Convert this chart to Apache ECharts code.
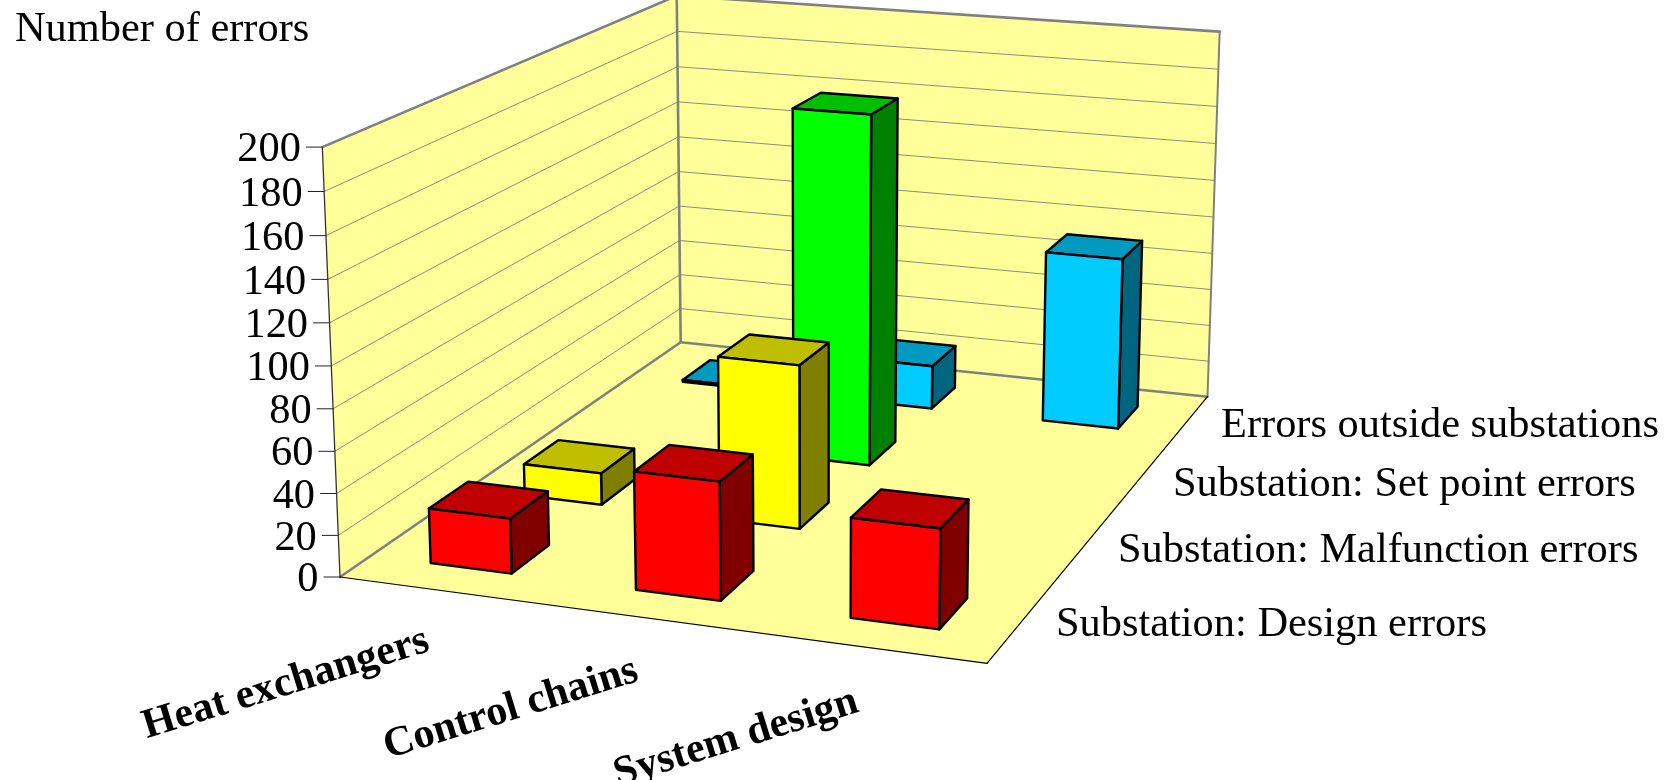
<!DOCTYPE html>
<html>
<head>
<meta charset="utf-8">
<style>html,body{margin:0;padding:0;background:#fff}#chart{width:1666px;height:780px}</style>
<script src="https://cdn.jsdelivr.net/npm/echarts@6/dist/echarts.min.js"></script>
</head>
<body>
<div id="chart"></div>
<script>
// Error counts per system area (columns) and error type (rows, front to back).
const categories = ['Heat exchangers', 'Control chains', 'System design'];
const rows = [
  'Substation: Design errors',
  'Substation: Malfunction errors',
  'Substation: Set point errors',
  'Errors outside substations'
];
const designErrors = [26.5, 56, 46.5];
const malfunctionErrors = [16, 81, null];
const setPointErrors = [null, 180.5, null];
const outsideErrors = [1, 23.5, 91.5];
const tickValues = [0, 20, 40, 60, 80, 100, 120, 140, 160, 180, 200];
const axisTitle = 'Number of errors';

const rowValues = [designErrors, malfunctionErrors, setPointErrors, outsideErrors];

// Face colours of each row's bars: front, top, side.
const rowColors = [
  ['#ff0000', '#bf0000', '#800000'],
  ['#ffff00', '#bfbf00', '#808000'],
  ['#00ff00', '#00bf00', '#008000'],
  ['#00ccff', '#0099bf', '#006680']
];

// Screen anchors of the 3D box used to derive the perspective projection.
const floorQuad = [[340, 577], [987, 663.3], [1207.5, 396.7], [680.7, 342.3]];
const wallTops = [
  { u: 0, v: 0, at: [322.3, 147] },
  { u: 0, v: 1, at: [676.7, -3.5] },
  { u: 1, v: 1, at: [1219.7, 31] }
];
const barFill = 0.4;
const barNudge = -0.001;

function solve3(m, b) {
  const a = m.map((r, i) => r.concat(b[i]));
  for (let i = 0; i < 3; i++) {
    let p = i;
    for (let k = i + 1; k < 3; k++) if (Math.abs(a[k][i]) > Math.abs(a[p][i])) p = k;
    [a[i], a[p]] = [a[p], a[i]];
    for (let k = 0; k < 3; k++) {
      if (k === i) continue;
      const f = a[k][i] / a[i][i];
      for (let c = i; c < 4; c++) a[k][c] -= f * a[i][c];
    }
  }
  return a.map((r, i) => r[3] / r[i]);
}

// Builds a projector (u along categories, v into depth, z upward, all 0..1) to screen pixels.
function buildProjector() {
  const [[x0, y0], [x1, y1], [x2, y2], [x3, y3]] = floorQuad;
  const dx1 = x1 - x2, dx2 = x3 - x2, sx = x0 - x1 + x2 - x3;
  const dy1 = y1 - y2, dy2 = y3 - y2, sy = y0 - y1 + y2 - y3;
  const det = dx1 * dy2 - dx2 * dy1;
  const g = (sx * dy2 - dx2 * sy) / det;
  const h = (dx1 * sy - sx * dy1) / det;
  const a = x1 - x0 + g * x1, b = x3 - x0 + h * x3, c = x0;
  const d = y1 - y0 + g * y1, e = y3 - y0 + h * y3, f = y0;

  // Least squares fit of the vertical column of the projection matrix.
  const eqs = [];
  wallTops.forEach(({ u, v, at: [X, Y] }) => {
    const w = g * u + h * v + 1;
    eqs.push([1, 0, -X, X * w - (a * u + b * v + c)]);
    eqs.push([0, 1, -Y, Y * w - (d * u + e * v + f)]);
  });
  const ata = [0, 1, 2].map(i => [0, 1, 2].map(j => eqs.reduce((s, q) => s + q[i] * q[j], 0)));
  const atb = [0, 1, 2].map(i => eqs.reduce((s, q) => s + q[i] * q[3], 0));
  const [p, q, r] = solve3(ata, atb);

  return (u, v, z) => {
    const w = g * u + h * v + 1 + r * z;
    return [(a * u + b * v + c + p * z) / w, (d * u + e * v + f + q * z) / w];
  };
}
const project = buildProjector();

const WALL = '#ffff99', EDGE = '#808080';
const serif = 'Liberation Serif';

function poly(points, fill, stroke, lineWidth) {
  return {
    type: 'polygon',
    shape: { points },
    style: { fill, stroke: stroke || 'none', lineWidth: lineWidth || 0, lineJoin: 'round' }
  };
}
function line(a, b, stroke, lineWidth) {
  return {
    type: 'line',
    shape: { x1: a[0], y1: a[1], x2: b[0], y2: b[1] },
    style: { stroke, lineWidth, lineCap: 'round' }
  };
}
function label(text, x, y, opts) {
  return Object.assign({
    type: 'text',
    x, y,
    style: {
      text,
      fill: '#000',
      font: (opts && opts.bold ? 'bold 42px "' : '42.4px "') + serif + '"',
      align: (opts && opts.align) || 'left',
      verticalAlign: 'middle'
    }
  }, opts && opts.rotation ? { rotation: opts.rotation } : null);
}

// Walls, floor, gridlines, value ticks and all the axis labels.
function renderFrame(params, api) {
  const sys = params.coordSys;
  const unitZ = val => (sys.y + sys.height - api.coord([0, val])[1]) / sys.height;
  const A = project(0, 0, 0), D = project(1, 0, 0), C = project(1, 1, 0), B = project(0, 1, 0);
  const At = project(0, 0, 1), Bt = project(0, 1, 1), Ct = project(1, 1, 1);
  const children = [
    poly([A, At, Bt, B], WALL),
    poly([B, Bt, Ct, C], WALL),
    poly([A, D, C, B], WALL)
  ];
  tickValues.forEach(val => {
    const z = unitZ(val);
    const p0 = project(0, 0, z), p1 = project(0, 1, z), p2 = project(1, 1, z);
    if (val > 0 && val < tickValues[tickValues.length - 1]) {
      children.push(line(p0, p1, '#707070', 0.8), line(p1, p2, '#707070', 0.8));
    }
    children.push(line([p0[0] - 16, p0[1]], p0, '#222', 1));
    children.push(label(String(val), p0[0] - 21.5, p0[1] + 3, { align: 'right' }));
  });
  children.push(
    line(A, B, EDGE, 2.6), line(B, C, EDGE, 2.6), line(B, Bt, EDGE, 2.6),
    line(At, Bt, EDGE, 2.6), line(Bt, Ct, EDGE, 2.6), line(C, Ct, EDGE, 2),
    line(A, At, '#333', 1.3), line(A, D, '#000', 1.2), line(D, C, '#000', 1.2)
  );
  children.push(label(axisTitle, 15, 30));
  const rowLabelAt = [[1056, 625], [1118, 551], [1173, 485], [1221, 426]];
  rows.forEach((name, i) => children.push(label(name, rowLabelAt[i][0], rowLabelAt[i][1])));
  const catLabelAt = [[428, 640], [637, 670], [857, 701]];
  categories.forEach((name, i) => children.push(
    label(name, catLabelAt[i][0], catLabelAt[i][1], { bold: true, align: 'right', rotation: 0.3 })
  ));
  return { type: 'group', children };
}

// One perspective box per data item; only the three visible faces are drawn.
function renderBar(params, api) {
  const sys = params.coordSys;
  const col = api.value(0), rowIdx = api.value(1), val = api.value(2);
  const centre = api.coord([col, val]);
  const band = api.size([1, 0])[0] / sys.width;
  const u = (centre[0] - sys.x) / sys.width + barNudge;
  const z = (sys.y + sys.height - centre[1]) / sys.height;
  const hw = band * barFill / 2, hd = barFill / rows.length / 2;
  const v = (rowIdx + 0.5) / rows.length;
  const u0 = u - hw, u1 = u + hw, v0 = v - hd, v1 = v + hd;
  const [front, top, side] = rowColors[rowIdx];
  const s = '#000', w = 2.4;
  return {
    type: 'group',
    children: [
      poly([project(u1, v0, 0), project(u1, v1, 0), project(u1, v1, z), project(u1, v0, z)], side, s, w),
      poly([project(u0, v0, z), project(u1, v0, z), project(u1, v1, z), project(u0, v1, z)], top, s, w),
      poly([project(u0, v0, 0), project(u1, v0, 0), project(u1, v0, z), project(u0, v0, z)], front, s, w)
    ]
  };
}

const barSeries = rows.map((name, rowIdx) => ({
  name,
  type: 'custom',
  renderItem: renderBar,
  clip: false,
  silent: true,
  encode: { x: 0, y: 2 },
  data: rowValues[rowIdx]
    .map((val, col) => [col, rowIdx, val])
    .filter(d => d[2] !== null)
})).reverse(); // far rows first so nearer bars paint over them

const chart = echarts.init(document.getElementById('chart'), null, { renderer: 'canvas' });
chart.setOption({
  animation: false,
  backgroundColor: '#fff',
  tooltip: { show: false },
  grid: { left: 0, right: 0, top: 0, bottom: 0 },
  xAxis: { type: 'category', data: categories, show: false },
  yAxis: { type: 'value', min: 0, max: 200, interval: 20, show: false },
  series: [
    {
      type: 'custom',
      name: 'frame',
      renderItem: renderFrame,
      clip: false,
      silent: true,
      encode: { x: 0, y: 1 },
      data: [[0, 0]]
    }
  ].concat(barSeries)
});
</script>
</body>
</html>
